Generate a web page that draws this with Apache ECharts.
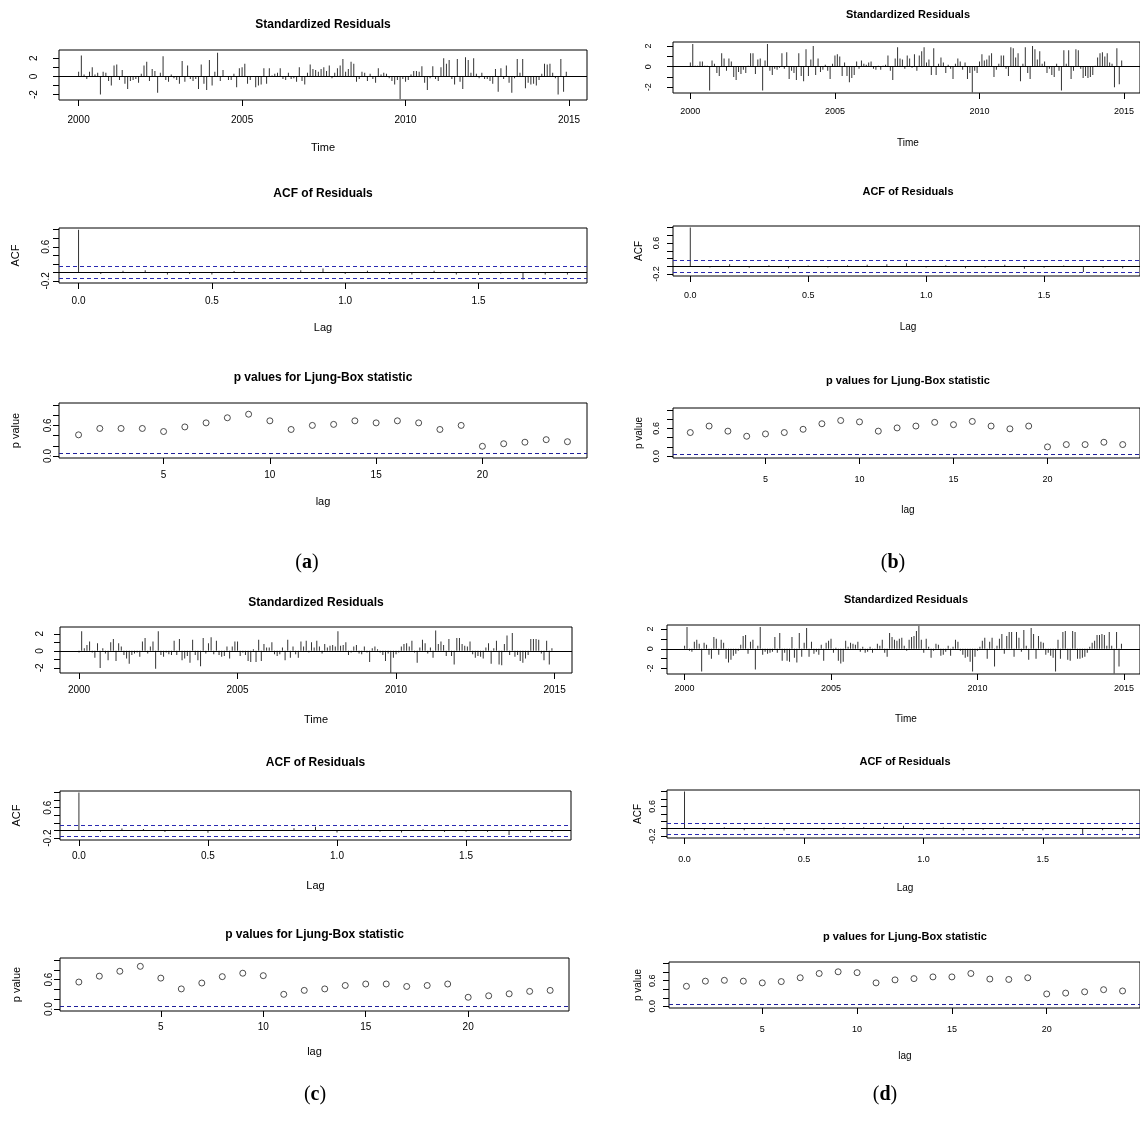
<!DOCTYPE html>
<html><head><meta charset="utf-8">
<script src="https://cdn.jsdelivr.net/npm/echarts@6/dist/echarts.min.js"></script>
<style>html,body{margin:0;padding:0;background:#fff}#c{width:1140px;height:1122px}</style>
</head><body><div id="c"></div>
<script>
// ---------- data ----------
const START_YEAR = 2000;
const yearTicks = [2000, 2005, 2010, 2015];
const acfLagTicks = [0, 0.5, 1.0, 1.5];
const lbLagTicks = [5, 10, 15, 20];
const resTicks = [-2, -1, 0, 1, 2];
const resLabels = [-2, 0, 2];
const acfYTicks = [-0.2, 0, 0.2, 0.4, 0.6, 0.8, 1.0];
const acfYLabels = [-0.2, 0.6];
const pYTicks = [0, 0.2, 0.4, 0.6, 0.8, 1.0];
const pYLabels = [0, 0.6];
const ACF_CI = 0.146;
const P_LINE = 0.05;

const resA = [0.5,2.3,0.2,-0.3,0.5,1.0,0.2,0.4,-2.0,0.5,0.4,-0.5,-1.0,1.2,1.3,-0.4,0.7,-0.8,-1.4,-0.5,
-0.4,-0.3,-0.7,0.3,1.2,1.6,-0.5,0.8,0.6,-1.8,0.4,2.2,-0.4,-0.6,0.2,-0.2,-0.4,-0.8,1.7,-0.6,
1.2,-0.3,-0.5,-0.3,-1.4,1.3,-0.8,-1.5,1.8,-1.0,0.5,2.6,-0.5,0.7,0.0,-0.4,-0.4,0.3,-1.2,0.9,
1.0,1.4,-0.8,-0.4,0.0,-1.2,-1.0,-0.9,0.9,-0.8,0.9,0.1,0.3,0.4,0.9,-0.3,-0.4,0.4,-0.3,-0.2,
-0.6,1.0,-0.5,-0.9,0.4,1.3,0.8,0.7,0.5,0.8,1.0,0.6,1.2,-0.2,0.4,0.9,1.2,1.9,0.5,0.8,
1.6,1.4,-0.6,-0.3,0.5,0.4,-0.5,0.3,-0.3,-0.7,0.9,0.2,0.4,0.3,-0.2,-0.5,-0.9,-0.4,-2.5,
-0.3,-0.6,-0.4,0.2,0.6,0.6,0.5,1.1,-0.7,-1.5,-0.2,1.1,-0.3,-0.5,1.0,2.0,1.4,1.8,-0.3,-0.9,
1.9,-0.6,-1.4,2.1,1.8,0.4,2.0,0.3,-0.2,0.4,-0.3,-0.3,-0.5,-0.8,0.8,-1.7,0.9,-0.3,1.2,-0.7,
-1.8,-0.2,1.9,0.4,1.9,-1.3,-0.7,-0.9,-0.8,-1.0,-0.4,0.3,1.4,1.3,1.4,0.4,-0.2,-2.0,1.9,-1.7,0.5];

const resB = [0.4,2.2,0.1,0.1,0.5,0.5,0.1,0.1,-2.3,0.6,0.3,-0.6,-0.9,1.3,0.8,-0.4,0.8,0.5,-1.0,-1.3,
-0.5,-0.7,-0.3,-0.6,0.1,1.3,1.3,-0.7,0.7,0.8,-2.3,0.6,2.2,-0.4,-0.8,-0.2,-0.3,-0.1,1.3,-0.2,
1.4,-1.2,-0.4,-0.6,-1.3,1.3,-0.9,-1.4,1.7,-0.9,0.7,2.0,-0.8,0.8,-0.5,-0.3,0.2,-0.4,-1.2,0.3,
1.1,1.2,1.0,-0.9,0.4,-0.9,-1.5,-1.1,-0.8,0.5,-0.2,0.6,0.3,0.2,0.4,0.5,-0.2,-0.3,0.1,-0.3,0.1,0.2,
1.1,-0.4,-1.3,0.8,1.9,0.8,0.7,-0.2,1.1,0.8,-0.1,1.2,-0.4,1.1,1.5,1.9,0.4,0.7,-0.8,1.8,
-0.8,0.3,0.9,0.4,-0.6,0.2,-0.2,-1.2,0.3,0.8,0.5,-0.3,0.4,-1.2,-0.6,-2.5,-0.4,-0.6,0.5,
1.2,0.6,0.7,1.1,1.3,-1.0,-0.3,0.3,1.1,1.1,-0.2,-0.9,1.9,1.8,0.9,1.3,-1.4,0.3,1.9,
-0.6,-1.2,2.0,1.7,0.7,1.5,0.3,0.5,-0.6,-0.2,-0.8,-1.0,0.3,-0.4,-2.3,1.6,0.3,1.6,-1.2,
-0.4,1.7,1.6,-0.2,-1.1,-0.9,-1.1,-1.0,-0.8,0.1,0.9,1.3,1.4,1.0,1.3,0.4,0.3,-2.0,1.8,-1.7,0.6];

const resC = [-0.2,2.3,0.3,0.7,1.1,-0.2,-0.8,0.9,-2.0,0.3,-0.3,-1.1,1.0,1.4,-1.2,0.9,0.5,-0.5,-0.9,-1.5,
-0.5,-0.3,-0.2,-0.7,1.1,1.5,-0.3,0.5,1.1,-2.1,2.3,-0.5,-0.7,-0.2,-0.4,-0.5,1.2,-0.5,1.4,-1.1,
-0.9,-0.6,-1.4,1.3,-0.5,-1.1,-1.8,1.5,-0.3,0.9,1.6,-0.4,1.2,-0.5,-0.7,-0.6,0.5,-0.9,0.5,1.1,
1.1,-0.6,-0.2,-0.5,-1.2,-1.3,0.2,-1.3,1.3,-1.2,0.8,0.4,0.4,1.0,-0.4,-0.6,-0.4,0.4,-1.1,1.3,
-0.8,0.5,-0.4,-0.8,1.1,0.5,1.2,-0.2,1.0,0.4,1.2,0.5,-0.3,0.8,0.4,0.6,0.7,0.5,2.3,0.6,
0.7,1.0,-0.5,-0.2,0.5,0.7,-0.3,-0.4,0.5,-0.2,-1.3,0.3,0.5,0.2,-0.2,-0.5,-1.2,-0.3,-2.7,
-0.8,-0.4,-0.2,0.5,0.8,0.9,0.5,1.2,-0.2,-1.4,0.4,1.3,0.9,-0.3,0.4,-0.8,2.4,0.8,1.1,0.7,
-0.6,1.4,-0.6,-1.6,1.5,1.5,0.8,0.6,0.5,1.1,-0.4,-0.8,-0.6,-0.7,-0.9,0.4,0.9,-1.5,0.3,1.2,
-1.6,-1.7,0.8,1.8,-0.5,2.1,-0.7,-0.5,-1.2,-1.4,-0.9,-0.5,1.4,1.4,1.4,1.3,-0.3,-1.1,1.2,-1.6,0.3];

const resD = [0.3,2.2,-0.2,-0.3,0.7,0.9,0.5,-2.3,0.6,0.4,-0.6,-1.0,1.2,1.0,-0.6,0.9,0.6,-1.0,-1.4,
-1.1,-0.7,-0.5,-0.2,0.4,1.3,1.4,-0.5,0.7,0.9,-2.1,0.3,2.2,-0.6,-0.3,-0.5,-0.4,-0.3,1.2,-0.4,
1.6,-1.2,-0.4,-1.2,-1.3,1.2,-0.9,-1.4,1.6,-0.8,0.6,2.1,-0.8,0.7,-0.5,-0.3,-0.6,0.4,-1.2,0.6,
0.8,1.0,-0.4,0.1,-1.2,-1.5,-1.3,0.8,0.2,0.6,0.5,0.4,0.7,-0.3,0.2,-0.4,-0.3,0.2,-0.4,-0.1,
0.5,0.3,0.9,-0.4,-0.8,1.6,1.2,0.9,0.8,1.0,1.1,0.3,-0.2,0.9,1.2,1.3,1.8,2.3,0.9,-0.4,
1.0,0.2,-0.9,-0.2,0.5,0.4,-0.7,-0.6,-0.3,0.3,-0.7,0.2,0.9,0.7,-0.2,-0.6,-0.9,-0.8,-1.3,-2.3,
-0.8,-0.2,0.2,0.8,1.1,-1.0,0.7,1.1,-1.8,0.3,1.0,1.5,-0.5,1.3,1.7,1.7,-0.8,1.7,
1.1,-0.3,1.9,0.3,-1.1,2.1,1.5,-1.0,1.3,0.7,0.6,-0.6,-0.4,-0.7,-0.9,-2.3,0.9,-1.0,1.7,1.8,
-1.1,-1.2,1.8,1.7,-1.0,-1.0,-0.9,-0.8,-0.4,0.2,0.6,0.8,1.4,1.4,1.5,1.4,0.3,1.7,0.3,-2.5,
1.7,-1.8,0.5];

const acfA = [1,-0.04,0.04,0.05,-0.05,-0.04,-0.05,0.03,0.0,0.01,0.05,0.09,-0.04,0.04,-0.04,-0.05,0.04,-0.05,-0.06,-0.03,-0.17,-0.05,-0.05];
const acfB = [1,-0.03,0.05,-0.04,0.03,-0.05,0.02,-0.03,0.03,0.04,0.05,0.08,-0.03,0.03,-0.05,-0.03,0.04,-0.06,-0.04,0.02,-0.15,-0.04,-0.05];
const acfC = [1,-0.03,0.05,0.04,-0.04,0.02,-0.06,0.03,-0.02,0.02,0.06,0.10,-0.05,0.02,-0.03,-0.05,0.03,-0.04,-0.03,-0.04,-0.12,-0.05,-0.04];
const acfD = [1,-0.03,0.04,-0.04,0.03,-0.05,0.02,-0.03,0.03,0.04,0.05,0.08,-0.03,0.03,-0.05,-0.03,0.04,-0.06,-0.04,0.02,-0.14,-0.04,-0.05];

const pA = [0.415,0.54,0.54,0.54,0.48,0.57,0.65,0.75,0.82,0.69,0.52,0.60,0.62,0.69,0.65,0.69,0.65,0.52,0.60,0.19,0.24,0.27,0.32,0.28];
const pB = [0.51,0.65,0.54,0.43,0.48,0.51,0.58,0.70,0.77,0.74,0.54,0.61,0.65,0.73,0.68,0.75,0.65,0.59,0.65,0.20,0.25,0.25,0.30,0.25];
const pC = [0.55,0.67,0.77,0.87,0.63,0.41,0.53,0.66,0.73,0.68,0.30,0.38,0.41,0.48,0.51,0.51,0.46,0.48,0.51,0.24,0.27,0.31,0.36,0.38];
const pD = [0.47,0.59,0.61,0.59,0.55,0.58,0.67,0.77,0.81,0.79,0.55,0.62,0.65,0.69,0.69,0.77,0.64,0.63,0.67,0.29,0.31,0.34,0.39,0.36];

// ---------- layout ----------
const FONT = '"Liberation Sans", Arial, sans-serif';
const NARROW = '"Liberation Sans Narrow", "Liberation Sans", Arial, sans-serif';
const panels = [
  {tag:'a', tagPos:[307,563], res:resA, acf:acfA, p:pA, font:FONT, fs:10, tfs:12,
   rBox:{l:59,t:50,w:528,h:50,y:[-2.6,2.9],title:25,xl:121,xn:148,yl:34},
   aBox:{l:59,t:228,w:528,h:55,title:194,xl:302,xn:328,yl:46,yn:16},
   pBox:{l:59,t:403,w:528,h:55,title:378,xl:476,xn:502,yl:48,yn:16}},
  {tag:'b', tagPos:[893,563], res:resB, acf:acfB, p:pB, font:NARROW, fs:9, tfs:11,
   rBox:{l:673,t:42,w:470,h:51,y:[-2.55,2.4],title:15,xl:113,xn:143,yl:649},
   aBox:{l:673,t:226,w:470,h:50,title:192,xl:297,xn:327,yl:657,yn:639},
   pBox:{l:673,t:408,w:470,h:50,title:381,xl:481,xn:510,yl:657,yn:639}},
  {tag:'c', tagPos:[315,1095], res:resC, acf:acfC, p:pC, font:FONT, fs:10, tfs:12,
   rBox:{l:60,t:627,w:512,h:46,y:[-2.6,2.8],title:603,xl:691,xn:720,yl:40},
   aBox:{l:60,t:791,w:511,h:49,title:763,xl:857,xn:886,yl:48,yn:17},
   pBox:{l:60,t:958,w:509,h:53,title:935,xl:1028,xn:1052,yl:49,yn:17}},
  {tag:'d', tagPos:[885,1095], res:resD, acf:acfD, p:pD, font:NARROW, fs:9, tfs:11,
   rBox:{l:667,t:625,w:478,h:49,y:[-2.55,2.4],title:600,xl:690,xn:719,yl:651},
   aBox:{l:667,t:790,w:476,h:48,title:762,xl:861,xn:888,yl:653,yn:638},
   pBox:{l:669,t:962,w:472,h:46,title:937,xl:1031,xn:1056,yl:653,yn:638}}
];

const grids=[], xAxes=[], yAxes=[], series=[], graphics=[];
function addPlot(b, xr, yr, xT, xL, xF, yT, yL, yF, font, fs){
  const gi = grids.length;
  grids.push({left:b.l, top:b.t, width:b.w, height:b.h, show:true, borderColor:'#000', borderWidth:1, backgroundColor:'transparent', containLabel:false});
  xAxes.push({type:'value', gridIndex:gi, position:'bottom', min:xr[0], max:xr[1], axisLine:{show:false, onZero:false}, splitLine:{show:false},
    axisTick:{show:true, length:6, customValues:xT, lineStyle:{color:'#000', width:1}},
    axisLabel:{show:true, customValues:xL, formatter:xF, margin: b.xl-(b.t+b.h)-fs/2-1, fontSize:fs, fontFamily:font, color:'#000'}});
  yAxes.push({type:'value', gridIndex:gi, position:'left', min:yr[0], max:yr[1], axisLine:{show:false, onZero:false}, splitLine:{show:false},
    axisTick:{show:true, length:6, customValues:yT, lineStyle:{color:'#000', width:1}},
    axisLabel:{show:true, customValues:yL, formatter:yF, rotate:90, margin: b.l-b.yl-fs/2, fontSize:fs, fontFamily:font, color:'#000'}});
  return gi;
}
function txt(x, y, s, font, rot){
  graphics.push({type:'text', x:x, y:y, rotation:rot||0, silent:true,
    style:{text:s, font:font, fill:'#000', align:'center', verticalAlign:'middle', textAlign:'center', textVerticalAlign:'middle'}});
}
function hline(v, color, type){
  return {silent:true, symbol:['none','none'], label:{show:false}, animation:false,
    lineStyle:{color:color, type:type, width:1}, emphasis:{disabled:true}, data:[{yAxis:v}]};
}
const f1 = v => v.toFixed(1);
const fInt = v => String(v);

panels.forEach(P => {
  const fs = P.fs, font = P.font;
  const tFont = 'bold ' + P.tfs + 'px ' + font;
  const nFont = (fs+1) + 'px ' + font;
  // residuals
  let b = P.rBox;
  let gi = addPlot(b, [1999.4, 2015.55], b.y, yearTicks, yearTicks, fInt, resTicks, resLabels, fInt, font, fs);
  series.push({type:'bar', xAxisIndex:gi, yAxisIndex:gi, barWidth:1, silent:true, animation:false,
    itemStyle:{color:'#333'}, data:P.res.map((v,i)=>[START_YEAR + i/12, v]),
    markLine: hline(0, '#000', 'solid')});
  txt(b.l + b.w/2, b.title, 'Standardized Residuals', tFont);
  txt(b.l + b.w/2, b.xn, 'Time', nFont);
  // acf
  b = P.aBox;
  gi = addPlot(b, [-0.0733, 1.9067], [-0.25, 1.04], acfLagTicks, acfLagTicks, f1, acfYTicks, acfYLabels, f1, font, fs);
  const ml = hline(0, '#000', 'solid');
  ml.data = [{yAxis:0, lineStyle:{color:'#000', type:'solid'}},
             {yAxis:ACF_CI, lineStyle:{color:'#2a2ab0', type:[4,3]}},
             {yAxis:-ACF_CI, lineStyle:{color:'#2a2ab0', type:[4,3]}}];
  series.push({type:'bar', xAxisIndex:gi, yAxisIndex:gi, barWidth:1, silent:true, animation:false,
    itemStyle:{color:'#333'}, data:P.acf.map((v,k)=>[k/12, v]), markLine: ml});
  txt(b.l + b.w/2, b.title, 'ACF of Residuals', tFont);
  txt(b.l + b.w/2, b.xn, 'Lag', nFont);
  txt(b.yn, b.t + b.h/2, 'ACF', nFont, Math.PI/2);
  // p values
  b = P.pBox;
  gi = addPlot(b, [0.08, 24.92], [-0.04, 1.04], lbLagTicks, lbLagTicks, fInt, pYTicks, pYLabels, f1, font, fs);
  series.push({type:'scatter', xAxisIndex:gi, yAxisIndex:gi, symbol:'circle', symbolSize:6, silent:true, animation:false,
    itemStyle:{color:'rgba(0,0,0,0)', borderColor:'#222', borderWidth:1},
    data:P.p.map((v,k)=>[k+1, v]), markLine: hline(P_LINE, '#1f1f9a', [4,3])});
  txt(b.l + b.w/2, b.title, 'p values for Ljung-Box statistic', tFont);
  txt(b.l + b.w/2, b.xn, 'lag', nFont);
  txt(b.yn, b.t + b.h/2, 'p value', nFont, Math.PI/2);
  // tag
  graphics.push({type:'text', x:P.tagPos[0], y:P.tagPos[1], silent:true,
    style:{text:'({b|' + P.tag + '})', fontSize:20, fontFamily:'"Liberation Serif", serif', fill:'#000',
      align:'center', verticalAlign:'middle', textAlign:'center', textVerticalAlign:'middle',
      rich:{b:{fontSize:20, fontWeight:'bold', fontFamily:'"Liberation Serif", serif', fill:'#000'}}}});
});

const chart = echarts.init(document.getElementById('c'), null, {renderer:'canvas', width:1140, height:1122});
chart.setOption({animation:false, backgroundColor:'#fff', grid:grids, xAxis:xAxes, yAxis:yAxes, series:series, graphic:graphics});
</script></body></html>
